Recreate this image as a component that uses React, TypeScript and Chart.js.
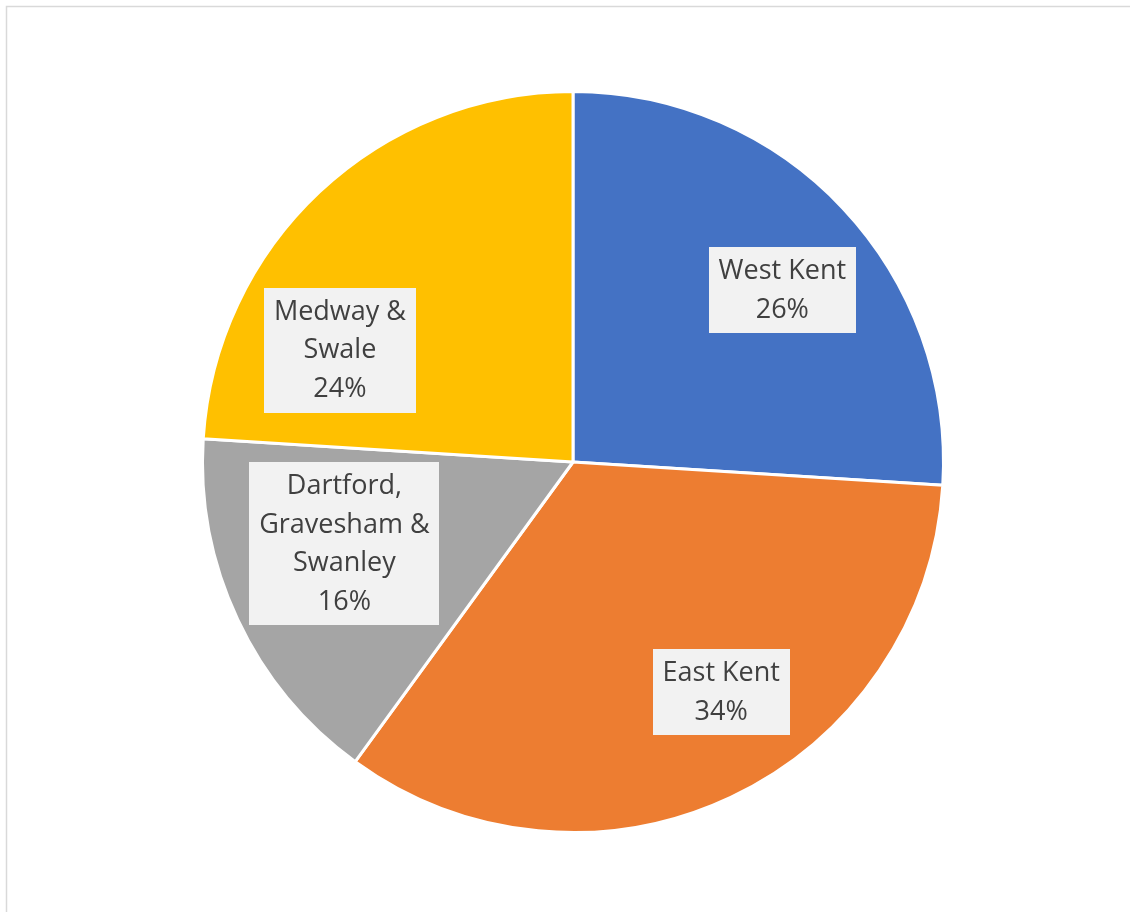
import React, { useEffect, useRef } from "react";
import { Chart, registerables } from "chart.js";

Chart.register(...registerables);

const categories = ["West Kent", "East Kent", "Dartford, Gravesham & Swanley", "Medway & Swale"];
const values = [26, 34, 16, 24];
const labelLines = [["West Kent"], ["East Kent"], ["Dartford,", "Gravesham &", "Swanley"], ["Medway &", "Swale"]];
const colors = ["#4472C4", "#ED7D31", "#A5A5A5", "#FFC000"];
// label box centres, as fractions of the radius from the pie centre
const labelOffsets = [
  [0.565, -0.463],
  [0.4, 0.621],
  [-0.617, 0.221],
  [-0.629, -0.302],
];

const FONT = "27px 'Open Sans'";
const LINE_H = 38.5;

const labelPlugin = {
  id: "boxLabels",
  beforeDraw(chart: any) {
    const ctx = chart.ctx;
    ctx.save();
    ctx.fillStyle = "#ffffff";
    ctx.fillRect(0, 0, chart.width, chart.height);
    ctx.strokeStyle = "#d9d9d9";
    ctx.lineWidth = 1.5;
    ctx.strokeRect(6.5, 6.5, chart.width + 10, chart.height + 10);
    ctx.restore();
  },
  afterDatasetsDraw(chart: any) {
    const ctx = chart.ctx;
    const meta = chart.getDatasetMeta(0);
    const total = values.reduce((a, b) => a + b, 0);
    ctx.save();
    ctx.font = FONT;
    ctx.textAlign = "center";
    ctx.textBaseline = "middle";
    meta.data.forEach((arc: any, i: number) => {
      const r = arc.outerRadius;
      const cx = arc.x + labelOffsets[i][0] * r;
      const cy = arc.y + labelOffsets[i][1] * r;
      const pct = Math.round((values[i] / total) * 100) + "%";
      const lines = [...labelLines[i], pct];
      const w = Math.max(...lines.map((l) => ctx.measureText(l).width)) + 20;
      const h = lines.length * LINE_H + 9;
      ctx.fillStyle = "#F2F2F2";
      ctx.fillRect(Math.round(cx - w / 2), Math.round(cy - h / 2), Math.round(w), Math.round(h));
      ctx.fillStyle = "#404040";
      lines.forEach((l, k) => {
        ctx.fillText(l, cx, cy - h / 2 + 5 + LINE_H * (k + 0.5));
      });
    });
    ctx.restore();
  },
};

export default function App() {
  const ref = useRef<HTMLCanvasElement>(null);
  useEffect(() => {
    const chart = new Chart(ref.current!, {
      type: "pie",
      data: {
        labels: categories,
        datasets: [
          {
            data: values,
            backgroundColor: colors,
            borderColor: "#ffffff",
            borderWidth: 3,
          },
        ],
      },
      options: {
        animation: false,
        responsive: false,
        maintainAspectRatio: false,
        layout: { padding: { top: 90, bottom: 78, left: 201, right: 185 } },
        plugins: { legend: { display: false }, tooltip: { enabled: false } },
      },
      plugins: [labelPlugin],
    });
    return () => chart.destroy();
  }, []);
  return (
    <canvas
      ref={ref}
      width={1130}
      height={912}
      style={{ position: "fixed", left: 0, top: 0, width: 1130, height: 912 }}
    />
  );
}
